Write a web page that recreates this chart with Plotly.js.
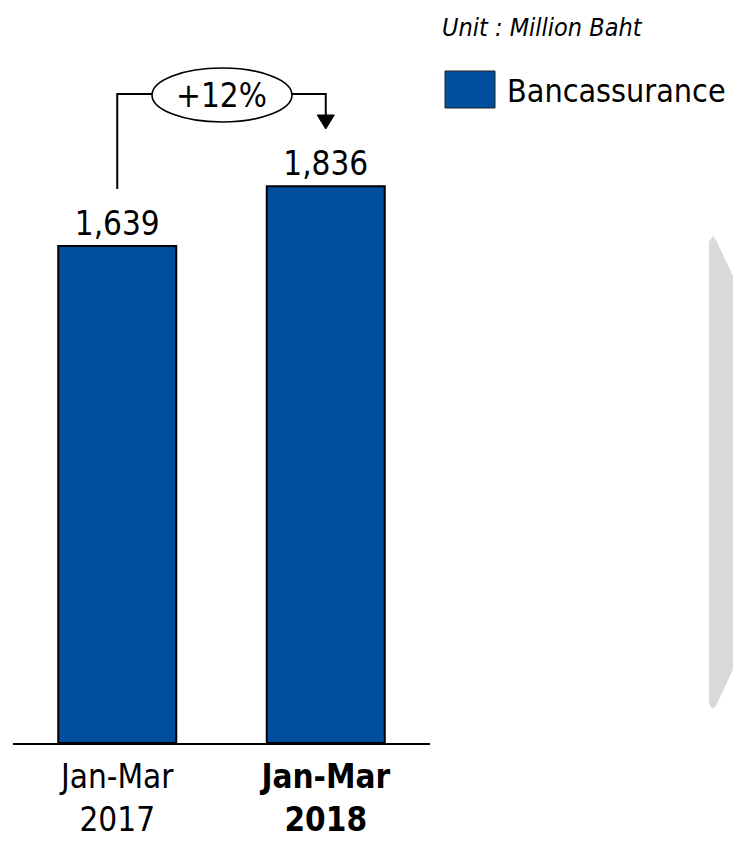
<!DOCTYPE html>
<html>
<head>
<meta charset="utf-8">
<script src="https://cdn.plot.ly/plotly-3.0.1.min.js"></script>
<style>
  html, body { margin: 0; padding: 0; background: #fff; overflow: hidden; }
  #chart { width: 733px; height: 841px; }
</style>
</head>
<body>
<div id="chart"></div>
<script>
// Bancassurance premium, first quarter, year on year
const periods = ['Jan-Mar<br>2017', '<b>Jan-Mar<br>2018</b>'];
const seriesName = 'Bancassurance';
const premium = [1639, 1836];
const growthLabel = '+12%';
const unitNote = 'Unit : Million Baht';

const BAR_BLUE = '#004E9E';
const FONT = "'DejaVu Sans Condensed', 'DejaVu Sans', sans-serif";

// page geometry
const W = 733, H = 841;
const M = { l: 13, r: 303, t: 0, b: 98 };
const plotW = W - M.l - M.r;
const plotH = H - M.t - M.b;
// page pixels -> paper fractions
const px = p => (p - M.l) / plotW;
const py = p => (H - M.b - p) / plotH;

const xIdx = premium.map((_, i) => i);

const bars = {
  type: 'bar',
  x: xIdx,
  y: premium,
  name: seriesName,
  width: 0.566,
  marker: { color: BAR_BLUE, line: { color: '#000', width: 2 } },
  text: premium.map(v => v.toLocaleString('en-US')),
  textposition: 'outside',
  textfont: { family: FONT, size: 33, color: '#000' },
  cliponaxis: false,
  hoverinfo: 'skip'
};

// decorative grey panel at the right edge
const panelPts = [[742, 295], [716, 240], [713, 236], [709, 242], [709, 703], [712, 709], [716, 706], [742, 650]];
const panelPath = 'M ' + panelPts.map(p => px(p[0]).toFixed(5) + ',' + py(p[1]).toFixed(5)).join(' L ') + ' Z';

// growth bracket between the two bars
const bracketY = py(94);
const ellX0 = 0.1667, ellX1 = 0.838;
const arrowBase = py(115), arrowTip = py(129), arrowHalf = 0.041;

const shapes = [
  { type: 'path', xref: 'paper', yref: 'paper', path: panelPath,
    fillcolor: '#D9D9D9', line: { width: 0 }, layer: 'below' },
  { type: 'path', xref: 'x', yref: 'paper',
    path: `M 0,${py(189)} L 0,${bracketY} L ${ellX0},${bracketY}`,
    line: { color: '#000', width: 2 } },
  { type: 'path', xref: 'x', yref: 'paper',
    path: `M ${ellX1},${bracketY} L 1,${bracketY} L 1,${arrowBase}`,
    line: { color: '#000', width: 2 } },
  { type: 'path', xref: 'x', yref: 'paper',
    path: `M ${1 - arrowHalf},${arrowBase} L ${1 + arrowHalf},${arrowBase} L 1,${arrowTip} Z`,
    fillcolor: '#000', line: { color: '#000', width: 1 } },
  { type: 'circle', xref: 'x', yref: 'paper',
    x0: ellX0, x1: ellX1, y0: py(122), y1: py(68),
    fillcolor: '#fff', line: { color: '#000', width: 1.6 } },
  // legend swatch
  { type: 'rect', xref: 'paper', yref: 'paper',
    x0: px(445), x1: px(495), y0: py(108), y1: py(71),
    fillcolor: BAR_BLUE, line: { color: '#222', width: 1 } }
];

const annotations = [
  { xref: 'x', yref: 'paper', x: 0.5, y: py(96), xanchor: 'center', yanchor: 'middle',
    text: growthLabel, showarrow: false,
    font: { family: FONT, size: 33, color: '#000' } },
  { xref: 'paper', yref: 'paper', x: px(440), y: py(28), xanchor: 'left', yanchor: 'middle',
    text: '<i>' + unitNote + '</i>', showarrow: false,
    font: { family: FONT, size: 25, color: '#000' } },
  { xref: 'paper', yref: 'paper', x: px(505), y: py(91), xanchor: 'left', yanchor: 'middle',
    text: seriesName, showarrow: false,
    font: { family: FONT, size: 32, color: '#000' } }
];

const layout = {
  width: W, height: H,
  margin: M,
  paper_bgcolor: '#fff',
  plot_bgcolor: 'rgba(0,0,0,0)',
  showlegend: false,
  hovermode: false,
  xaxis: {
    type: 'linear',
    range: [-0.5, 1.5],
    tickvals: xIdx,
    ticktext: periods,
    ticks: '',
    ticklabelstandoff: 3,
    showgrid: false,
    zeroline: false,
    showline: true,
    linecolor: '#000',
    linewidth: 2,
    tickfont: { family: FONT, size: 33, color: '#000' },
    fixedrange: true
  },
  yaxis: {
    range: [0, 2450],
    visible: false,
    showgrid: false,
    zeroline: false,
    fixedrange: true
  },
  shapes: shapes,
  annotations: annotations
};

Plotly.newPlot('chart', [bars], layout, { staticPlot: true, displayModeBar: false });
</script>
</body>
</html>
